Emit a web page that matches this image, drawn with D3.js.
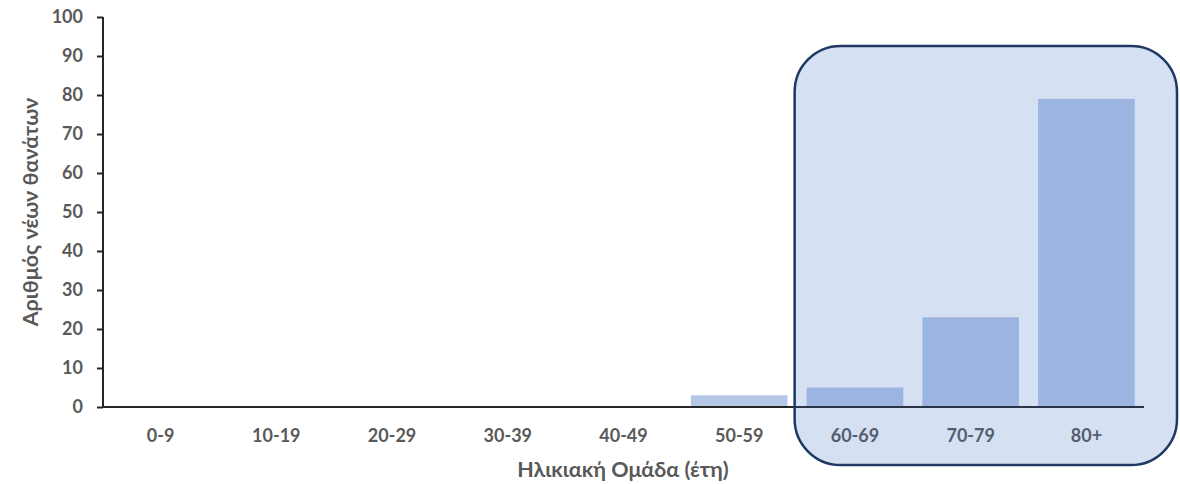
<!DOCTYPE html>
<html>
<head>
<meta charset="utf-8">
<script src="https://cdn.jsdelivr.net/npm/d3@7"></script>
<style>
  html, body { margin: 0; padding: 0; background: #fff; }
  svg { display: block; }
  text { font-family: Lato, "Open Sans", sans-serif; font-weight: bold; fill: #595959; }
</style>
</head>
<body>
<svg id="chart" width="1180" height="484"></svg>
<script>
// Age groups and number of new deaths per group
const ageGroups = ["0-9", "10-19", "20-29", "30-39", "40-49", "50-59", "60-69", "70-79", "80+"];
const deaths = [0, 0, 0, 0, 0, 3, 5, 23, 79];
const yTicks = [0, 10, 20, 30, 40, 50, 60, 70, 80, 90, 100];
// Age groups enclosed by the highlight box
const highlighted = ["60-69", "70-79", "80+"];

const svg = d3.select("#chart");
const margin = { left: 103, right: 36, top: 17, bottom: 77 };
const W = 1180, H = 484;

const x = d3.scaleBand()
  .domain(ageGroups)
  .range([margin.left, W - margin.right])
  .paddingInner(0.165)
  .paddingOuter(0.08);

const y = d3.scaleLinear()
  .domain([0, 100])
  .range([H - margin.bottom, margin.top]);

// Bars
svg.append("g")
  .selectAll("rect")
  .data(ageGroups.map((g, i) => ({ g, v: deaths[i] })).filter(d => d.v > 0))
  .join("rect")
  .attr("x", d => x(d.g))
  .attr("y", d => y(d.v))
  .attr("width", x.bandwidth())
  .attr("height", d => y(0) - y(d.v))
  .attr("fill", "#b4c7e7");

// Y axis
const yAxis = svg.append("g")
  .attr("transform", `translate(${margin.left},0)`)
  .call(d3.axisLeft(y).tickValues(yTicks).tickSize(6).tickPadding(14));
yAxis.select(".domain").attr("stroke", "#262626").attr("stroke-width", 2).attr("d", `M0,${y(100)}V${y(0)}`);
yAxis.selectAll(".tick line").attr("stroke", "#262626").attr("stroke-width", 2);
yAxis.selectAll(".tick text").style("font-size", "18px").attr("fill", "#595959");

// X axis
const xAxis = svg.append("g")
  .attr("transform", `translate(0,${y(0)})`)
  .call(d3.axisBottom(x).tickSize(0).tickPadding(22));
xAxis.select(".domain").attr("stroke", "#262626").attr("stroke-width", 2)
  .attr("d", `M${margin.left},0H${W - margin.right}`);
xAxis.selectAll(".tick text").style("font-size", "18px").attr("fill", "#595959");

// Highlight box around the oldest age groups
const boxLeft = x(highlighted[0]) - 12;
svg.append("rect")
  .attr("x", boxLeft)
  .attr("y", 46)
  .attr("width", W - 3 - boxLeft)
  .attr("height", 419)
  .attr("rx", 46)
  .attr("ry", 46)
  .attr("fill", "#3e6dc6")
  .attr("fill-opacity", 0.21)
  .attr("stroke", "#1f3864")
  .attr("stroke-width", 2.5);

// Axis titles
svg.append("text")
  .attr("x", 623)
  .attr("y", 477)
  .attr("text-anchor", "middle")
  .style("font-size", "21.5px")
  .text("Ηλικιακή Ομάδα (έτη)");

svg.append("text")
  .attr("transform", `translate(38,${212}) rotate(-90)`)
  .attr("text-anchor", "middle")
  .style("font-size", "21.5px")
  .text("Αριθμός νέων θανάτων");
</script>
</body>
</html>
